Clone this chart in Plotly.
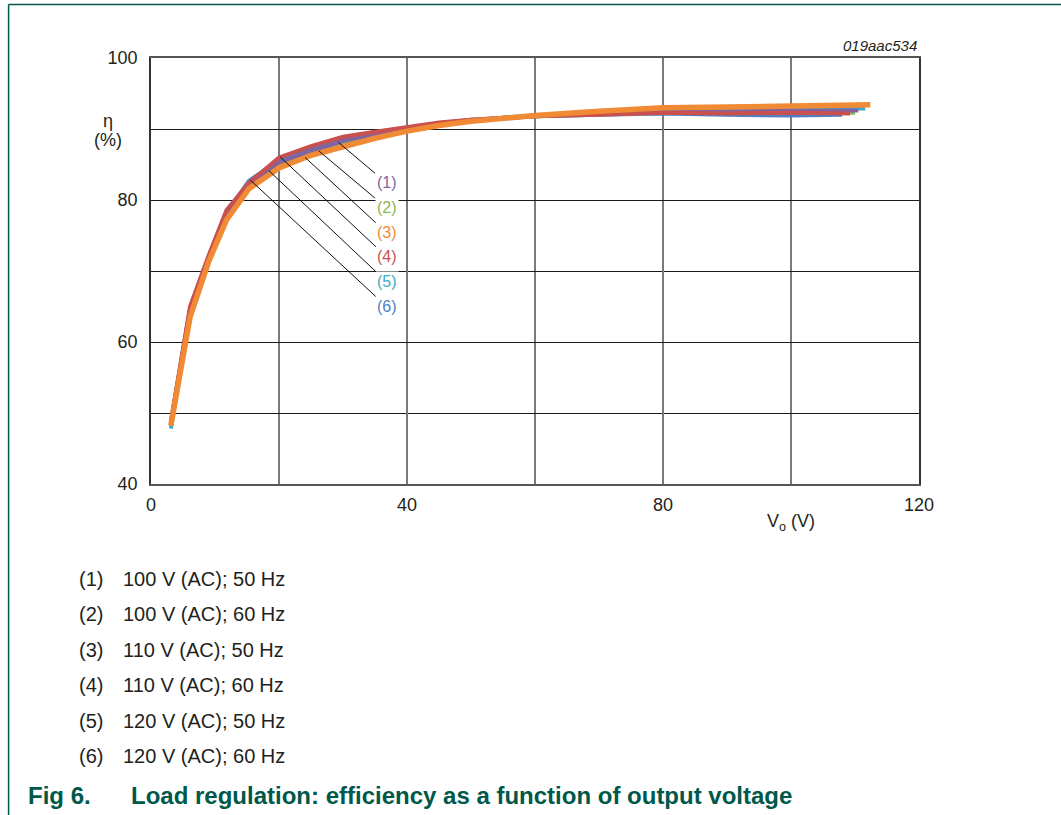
import numpy as np
import plotly.graph_objects as go

# ---------------- data ----------------
v_out = [3.1, 6.1, 9, 11.8, 15.3, 20, 25, 30, 35, 40, 45, 50, 55, 60, 70, 80, 90, 100]
end_v = {"1": 110.5, "2": 110.0, "3": 112.4, "4": 109.2, "5": 111.6, "6": 108.0}

eff_1 = [48.5, 64.7, 71.8, 78.0, 82.2, 85.3, 86.9, 88.3, 89.3, 90.1, 90.8, 91.3, 91.6, 91.8, 92.1, 92.4, 92.5, 92.5, 92.6]
eff_2 = [48.4, 64.4, 71.7, 77.9, 82.0, 84.9, 86.6, 88.0, 89.0, 90.0, 90.7, 91.2, 91.6, 91.8, 92.1, 92.3, 92.3, 92.3, 92.3]
eff_3 = [48.2, 63.5, 71.3, 77.2, 81.6, 84.5, 86.3, 87.6, 88.7, 89.7, 90.5, 91.1, 91.5, 91.9, 92.5, 93.0, 93.1, 93.2, 93.4]
eff_4 = [48.8, 65.0, 72.2, 78.6, 82.4, 86.0, 87.6, 88.9, 89.6, 90.3, 90.9, 91.3, 91.6, 91.8, 92.0, 92.3, 92.2, 92.3, 92.2]
eff_5 = [47.8, 64.2, 71.7, 77.8, 82.5, 85.0, 86.7, 88.1, 89.1, 90.0, 90.7, 91.2, 91.6, 91.9, 92.2, 92.6, 92.7, 92.8, 92.9]
eff_6 = [48.6, 64.6, 71.9, 78.2, 82.7, 85.6, 87.3, 88.6, 89.4, 90.1, 90.7, 91.2, 91.5, 91.8, 92.0, 92.2, 92.0, 91.9, 92.0]

series_ids = ["1", "2", "3", "4", "5", "6"]
series_eff = {"1": eff_1, "2": eff_2, "3": eff_3, "4": eff_4, "5": eff_5, "6": eff_6}
legend_text = ["100 V (AC); 50 Hz", "100 V (AC); 60 Hz", "110 V (AC); 50 Hz",
               "110 V (AC); 60 Hz", "120 V (AC); 50 Hz", "120 V (AC); 60 Hz"]
leader_v = {"1": 29.3, "2": 26.2, "3": 24.1, "4": 20.2, "5": 18.4, "6": 15.5}

x_ticks = [0, 40, 80, 120]
y_ticks = [40, 60, 80, 100]

# ---------------- styles ----------------
colors = {"1": "#8064A2", "2": "#8DB54F", "3": "#F08A35", "4": "#C9504E",
          "5": "#42A9C6", "6": "#4F7FC0"}
widths = {"1": 4, "2": 4, "3": 5.5, "4": 4, "5": 4, "6": 4}
draw_order = ["6", "5", "2", "1", "4", "3"]
FONT = "Arial, 'Liberation Sans', sans-serif"
GREEN = "#00584A"

W, H = 1061, 815
L, R, T, B = 150.5, 919.0, 57.5, 484.0


def px(x, y):
    return (x - L) / (R - L), (H - y - (H - B)) / (B - T)


fig = go.Figure()
for sid in draw_order:
    xs = v_out + [end_v[sid]]
    fig.add_trace(go.Scatter(x=xs, y=series_eff[sid], mode="lines",
                             line=dict(color=colors[sid], width=widths[sid]),
                             showlegend=False, hoverinfo="skip"))

annotations = []
label_v = 36.8
label_eta = [82.4, 78.9, 75.4, 72.0, 68.5, 65.0]
for i, sid in enumerate(series_ids):
    xs = v_out + [end_v[sid]]
    yv = float(np.interp(leader_v[sid], xs, series_eff[sid]))
    annotations.append(dict(x=leader_v[sid], y=yv, xref="x", yref="y",
                            ax=label_v, ay=label_eta[i], axref="x", ayref="y",
                            text="(%s)" % sid, showarrow=True, arrowhead=0,
                            arrowwidth=1, arrowcolor="#111", bgcolor="white",
                            borderpad=1,
                            font=dict(family=FONT, size=16, color=colors[sid])))

# axis captions
for txt, x, y, anc in [("η", 107.5, 120.5, "center"), ("(%)", 107.5, 140.0, "center")]:
    xp, yp = px(x, y)
    annotations.append(dict(x=xp, y=yp, xref="paper", yref="paper", text=txt,
                            showarrow=False, xanchor=anc, yanchor="middle",
                            font=dict(family=FONT, size=18, color="#231f20")))
xp, yp = px(765, 523)
annotations.append(dict(x=xp, y=yp, xref="paper", yref="paper",
                        text="V<sub>o</sub> (V)", showarrow=False,
                        xanchor="left", yanchor="middle",
                        font=dict(family=FONT, size=18, color="#231f20")))
xp, yp = px(919, 44.5)
annotations.append(dict(x=xp, y=yp, xref="paper", yref="paper",
                        text="<i>019aac534</i>", showarrow=False,
                        xanchor="right", yanchor="middle",
                        font=dict(family=FONT, size=15, color="#231f20")))

# legend list
for i, t in enumerate(legend_text):
    yy = 579 + i * 35.5
    xp, yp = px(76, yy)
    annotations.append(dict(x=xp, y=yp, xref="paper", yref="paper",
                            text="(%d)" % (i + 1), showarrow=False,
                            xanchor="left", yanchor="middle",
                            font=dict(family=FONT, size=20, color="#231f20")))
    xp, yp = px(120.5, yy)
    annotations.append(dict(x=xp, y=yp, xref="paper", yref="paper", text=t,
                            showarrow=False, xanchor="left", yanchor="middle",
                            font=dict(family=FONT, size=20, color="#231f20")))

# caption
xp, yp = px(25, 796)
annotations.append(dict(x=xp, y=yp, xref="paper", yref="paper", text="<b>Fig 6.</b>",
                        showarrow=False, xanchor="left", yanchor="middle",
                        font=dict(family=FONT, size=24, color=GREEN)))
xp, yp = px(128, 796)
annotations.append(dict(x=xp, y=yp, xref="paper", yref="paper",
                        text="<b>Load regulation: efficiency as a function of output voltage</b>",
                        showarrow=False, xanchor="left", yanchor="middle",
                        font=dict(family=FONT, size=24, color=GREEN)))

# green frame (top and left)
x0, y0 = px(8, 4)
x1, _ = px(W + 5, 4)
_, y1 = px(8, H + 5)
shapes = [
    dict(type="line", xref="paper", yref="paper", x0=x0, y0=y0, x1=x1, y1=y0,
         line=dict(color=GREEN, width=1.5)),
    dict(type="line", xref="paper", yref="paper", x0=x0, y0=y0, x1=x0, y1=y1,
         line=dict(color=GREEN, width=1.5)),
]

fig.update_layout(
    width=W, height=H,
    margin=dict(l=L, r=W - R, t=T, b=H - B, pad=0),
    paper_bgcolor="white", plot_bgcolor="white",
    annotations=annotations, shapes=shapes,
    xaxis=dict(range=[0, 120], tickvals=x_ticks, showgrid=True,
               gridcolor="#7a7a7a", gridwidth=1.5, zeroline=False,
               showline=True, linecolor="#555", linewidth=1.5, mirror=True,
               ticks="", ticklabelstandoff=4,
               minor=dict(dtick=20, showgrid=True, gridcolor="#7a7a7a", gridwidth=1.5),
               tickfont=dict(family=FONT, size=18, color="#231f20")),
    yaxis=dict(range=[40, 100], tickvals=y_ticks, showgrid=True,
               gridcolor="#1a1a1a", gridwidth=1, zeroline=False,
               showline=True, linecolor="#333", linewidth=1.5, mirror=True,
               ticks="", ticklabelstandoff=8,
               minor=dict(dtick=10, showgrid=True, gridcolor="#1a1a1a", gridwidth=1),
               tickfont=dict(family=FONT, size=18, color="#231f20")),
)

fig.write_html("out.html")
